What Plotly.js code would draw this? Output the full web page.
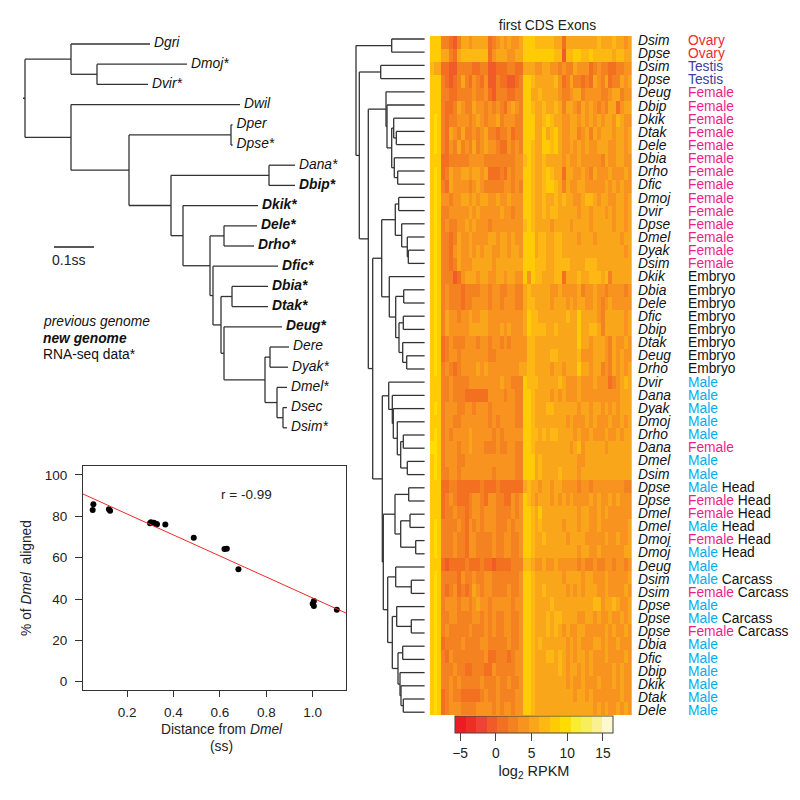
<!DOCTYPE html>
<html>
<head>
<meta charset="utf-8">
<script src="https://cdn.plot.ly/plotly-3.0.1.min.js"></script>
<style>html,body{margin:0;padding:0;background:#fff}</style>
</head>
<body>
<div id="chart" style="width:800px;height:800px"></div>
<script>
// ---------- species tree (branch lengths in ss)
const speciesTree = "((Dgri:0.1975,(Dmoj:0.225,Dvir:0.1275):0.065):0.115,(Dwil:0.4225,((Dper:0.004,Dpse:0.004):0.255,((Dana:0.065,Dbip:0.065):0.245,(Dkik:0.1875,((Dele:0.0825,Drho:0.075):0.035,(Dfic:0.1625,((Dbia:0.09,Dtak:0.09):0.0275,(Deug:0.145,((Dere:0.0475,Dyak:0.045):0.0125,(Dmel:0.025,(Dsec:0.01,Dsim:0.01):0.015):0.03):0.1025):0.0075):0.02):0.0075):0.0675):0.03):0.105):0.145):0.115):0.005";
const newGenomes = ["Dbip","Dkik","Dele","Drho","Dfic","Dbia","Dtak","Deug"];
const rnaSeqSpecies = ["Dmoj","Dvir","Dpse","Dana","Dbip","Dkik","Dele","Drho","Dfic","Dbia","Dtak","Deug","Dyak","Dmel","Dsim"];
const scaleBarLength = [0.1];

// ---------- scatter
const distance = [0.055,0.052,0.122,0.127,0.299,0.303,0.316,0.325,0.329,0.365,0.4875,0.62,0.63,0.68,1.005,1.0,1.005,1.104];
const aligned  = [85.8,83.1,83.4,82.7,76.6,77.1,76.9,76.3,76.2,76.1,69.7,64.2,64.3,54.4,39,37.7,36.6,34.8];
const fitX = [0.0103,1.1435];
const fitY = [90.8,33.2];

// ---------- row labels
const rowSpecies = ["Dsim","Dpse","Dsim","Dpse","Deug","Dbip","Dkik","Dtak","Dele","Dbia","Drho","Dfic","Dmoj","Dvir","Dpse","Dmel","Dyak","Dsim",
 "Dkik","Dbia","Dele","Dfic","Dbip","Dtak","Deug","Drho","Dvir","Dana","Dyak","Dmoj","Drho","Dana","Dmel","Dsim",
 "Dpse","Dpse","Dmel","Dmel","Dmoj","Dmoj","Deug","Dsim","Dsim","Dpse","Dpse","Dpse","Dbia","Dfic","Dbip","Dkik","Dtak","Dele"];
const rowSex = ["Ovary","Ovary","Testis","Testis","Female","Female","Female","Female","Female","Female","Female","Female","Female","Female","Female","Female","Female","Female",
 "Embryo","Embryo","Embryo","Embryo","Embryo","Embryo","Embryo","Embryo","Male","Male","Male","Male","Male","Female","Male","Male",
 "Male","Female","Female","Male","Female","Male","Male","Male","Female","Male","Male","Female","Male","Male","Male","Male","Male","Male"];
const rowTissue = ["","","","","","","","","","","","","","","","","","","","","","","","","","","","","","","","","","",
 "Head","Head","Head","Head","Head","Head","","Carcass","Carcass","","Carcass","Carcass","","","","","",""];
const sexColors = {Ovary:"#EE2A2F",Testis:"#3F40A0",Female:"#EC1E8E",Male:"#00AEEF",Embryo:"#111111"};

// ---------- heat map: one hex digit per exon = log2 RPKM
const heatRows = [
"889 3310355455 55134545445 8887777755 1555555557 55575545",
"898 5531577777 77145554455 9888888877 0778877877 77757755",
"755 1100333311 33001113311 5554455443 4335444134 33113344",
"889 3101353143 14003110013 9875555574 1353313154 35133545",
"889 3311333343 34103331133 8855755554 3345534444 33455344",
"899 3113543354 43434314543 9875575575 3554354543 43551455",
"9a9 3133444345 43445344433 9885578755 4455454545 45547544",
"9a9 3154353343 45331334133 9885585785 4455345354 55545545",
"9a9 3143534353 45443114343 8875588785 4454545445 55445545",
"899 1133333444 43333333344 7875575555 4544544444 35445544",
"9a8 1354455455 45111314344 8875578755 1554454354 44544454",
"9a9 3154444345 43333344343 8875578875 3544554444 45454544",
"9a9 4434455454 55445445444 8875575575 7554457754 55445545",
"9a9 3344444545 44444544344 8875575775 5555455455 54545545",
"8a8 3433445454 44344444444 7875555455 5545555455 55545545",
"8a9 3313544544 44554554544 9885775577 5555455545 55555455",
"9a9 3314544545 45544554554 9885775577 5555555555 55555545",
"9a9 3313544455 55545555555 9887775577 7755557775 55555555",
"9a9 3330145554 55445545544 8487755577 1555755777 57355555",
"8a8 3433313333 44344334433 5755555445 4444534454 43444434",
"9a9 3433313344 44344344433 5775555455 5454554454 34544444",
"9a9 3544344544 55444444444 5877555555 5755855554 35555545",
"9a9 3544444555 55444545444 5877775575 5555855775 35555545",
"9a9 1343334443 44344343444 4775555555 5555855455 54354454",
"9a9 1344344444 44334444444 4775555775 5555744455 54354544",
"9a9 3431344445 45444444445 5775555455 4555855455 34354545",
"889 3343333444 44444544333 8777555557 5444544454 44134575",
"899 3343331111 11444434433 9875555454 5444544444 44444555",
"9a9 3444334434 44344444433 8875557755 5555455455 45454555",
"899 3443344444 44343444433 9875555555 5454445454 44544545",
"9a9 3434444544 44434344444 8877575775 5554544544 45445455",
"aa9 3444344544 43334334433 9875555555 5545745555 54555555",
"9a9 3444334444 44444444433 9885755555 5555445555 55555555",
"9a9 3344344444 44434444433 9885755557 5555455555 55555555",
"889 1133111111 31113111111 5755455455 4444344344 44444433",
"899 1343111344 31443311434 8754555454 5454444545 44545444",
"899 1334331344 34443333434 8875855555 5555455445 45444444",
"8a9 3333431434 34443334344 8875755555 4555455445 44444445",
"8a9 3334331443 33343344334 8875575555 5455554444 45445445",
"8a9 3334331443 33343344334 8875555555 5555455445 44444455",
"899 1011113111 31101111333 7754454454 4444343343 34434434",
"8a9 3333143343 34433333334 8875555555 4555545544 45444445",
"8a9 3134131354 34433334334 8875575555 5454545554 45444454",
"8a8 3444344345 44344444344 8875555755 5555565577 45575445",
"8a9 3344333344 34343344334 8875557577 5555445545 44544545",
"8a9 3433333433 34343344334 9875557575 4544554444 45454454",
"9a9 1333343333 44333334334 9875755555 5454544455 45445444",
"9a9 3143333333 34113331344 9875557757 5454554544 45444454",
"9a9 3334331133 31143333344 9875555557 5455454544 44454544",
"9a9 3343433333 43334334334 8875555555 5454454445 44454544",
"9a9 1343311111 34334333344 8875555555 5554554544 44444544",
"9a9 1344433334 44434344344 8875555555 5555555545 45445454"
];
const heatColors = ["#ED1C24","#EE2E24","#EF4136","#F15A29","#F37021","#F58220","#F7931E","#FAA61A","#FDB813","#FFCB05","#FFDD00","#F9EC31","#F8EE5A","#FAF08F","#FEF8D0"];
const heatMin = -5.7, heatMax = 16.4;
const heatTicks = [-5,0,5,10,15];

// ---------- dendrogram: [height, upper child, lower child]; 0 is a leaf, leaves run in row order
const ovaryClade = [.329,0,0];
const testisClade = [.439,0,0];
const femaleA = [.386,0,[.376,0,[.329,[.309,0,[.283,0,0]],[.303,0,[.269,0,0]]]]];
const femaleB = [.293,[.259,0,0],[.229,0,[.173,0,[.163,0,0]]]];
const embryoClade = [.353,0,[.289,[.209,0,0],[.256,[.213,0,0],[.219,0,[.179,0,0]]]]];
const maleClade = [.359,0,[.323,0,[.313,0,[.273,0,[.239,[.213,0,0],[.173,0,0]]]]]];
const headClade = [.296,[.159,0,0],[.239,[.146,0,0],[.089,0,0]]];
const carcassClade = [.369,[.289,0,[.133,0,0]],[.323,[.279,0,[.133,0,0]],[.266,[.219,0,0],[.246,0,[.236,0,[.213,0,0]]]]]];
const dendrogram = [.686,ovaryClade,[.653,testisClade,[.563,femaleA,[.519,[.429,femaleB,embryoClade],[.423,maleClade,[.413,headClade,carcassClade]]]]]];

// ---------- helpers
const P = 800, FONT = '"Liberation Sans", Arial, sans-serif', INK = "#222";
const px = (a,b) => [a/P,b/P];
const pyr = (top,bottom) => [1-bottom/P,1-top/P];

function parseNewick(s){
  const toks = s.match(/[(),]|[^(),]+/g); let i = 0;
  function node(){
    const n = {children:[]};
    if(toks[i]==="("){ i++; n.children.push(node()); while(toks[i]===","){i++; n.children.push(node());} i++; }
    if(toks[i] && !"(),".includes(toks[i])){ const p = toks[i++].split(":"); n.name = p[0]; n.len = +p[1]; }
    return n;
  }
  return node();
}
function layoutSpecies(root){
  const xs=[],ys=[],tips=[]; let k=0;
  (function walk(n,x0){
    const x = x0+n.len;
    if(!n.children.length){ n.y=k++; tips.push({name:n.name,x:x,y:n.y}); }
    else { n.children.forEach(c=>walk(c,x));
      const a=n.children[0].y,b=n.children[n.children.length-1].y; n.y=(a+b)/2;
      xs.push(x,x,null); ys.push(a,b,null); }
    xs.push(x0,x,null); ys.push(n.y,n.y,null);
  })(root,-root.len);
  return {xs,ys,tips};
}
function layoutDendro(root){
  const xs=[],ys=[]; let k=0;
  function walk(n,parentH){
    let y,h;
    if(n===0){ y=k++; h=0; }
    else { h=n[0]; const a=walk(n[1],h),b=walk(n[2],h); y=(a+b)/2; xs.push(h,h,null); ys.push(a,b,null); }
    if(parentH!==null){ xs.push(parentH,h,null); ys.push(y,y,null); }
    return y;
  }
  walk(root,null);
  return {xs,ys};
}

const sp = layoutSpecies(parseNewick(speciesTree));
const den = layoutDendro(dendrogram);
const z = heatRows.map(r => r.replace(/ /g,"").split("").map(c => parseInt(c,16)));
const colorscale = [];
heatColors.forEach((c,i)=>{ colorscale.push([i/heatColors.length,c],[(i+1)/heatColors.length,c]); });

const tipText = sp.tips.map(t=>{
  const star = rnaSeqSpecies.includes(t.name) ? "*" : "";
  const s = "<i>"+t.name+star+"</i>";
  return newGenomes.includes(t.name) ? "<b>"+s+"</b>" : s;
});
const rowIdx = rowSpecies.map((_,i)=>i);

const traces = [
 {type:"scatter",mode:"lines",x:sp.xs,y:sp.ys,xaxis:"x",yaxis:"y",line:{color:"#333",width:1.3},hoverinfo:"skip",connectgaps:false},
 {type:"scatter",mode:"text",x:sp.tips.map(t=>t.x+0.01),y:sp.tips.map(t=>t.y),text:tipText,textposition:"middle right",xaxis:"x",yaxis:"y",cliponaxis:false,
  textfont:{family:FONT,size:13.8,color:"#111"},hoverinfo:"skip"},
 {type:"scatter",mode:"lines",x:[0.0725,0.0725+scaleBarLength[0]],y:[10.05,10.05],xaxis:"x",yaxis:"y",line:{color:"#222",width:1.3},hoverinfo:"skip"},
 {type:"scatter",mode:"lines",x:den.xs,y:den.ys,xaxis:"x2",yaxis:"y2",line:{color:"#333",width:1.3},hoverinfo:"skip"},
 {type:"scatter",mode:"markers",x:distance,y:aligned,xaxis:"x3",yaxis:"y3",marker:{color:"#000",size:6},cliponaxis:false,hoverinfo:"x+y"},
 {type:"scatter",mode:"lines",x:fitX,y:fitY,xaxis:"x3",yaxis:"y3",line:{color:"#EE2A2B",width:1},hoverinfo:"skip"},
 {type:"heatmap",z:z,xaxis:"x4",yaxis:"y4",colorscale:colorscale,zmin:heatMin,zmax:heatMax,xgap:0,ygap:0,
  colorbar:{orientation:"h",x:534/P,xanchor:"center",y:1-716/P,yanchor:"top",thickness:17,thicknessmode:"pixels",len:158,lenmode:"pixels",
   xpad:0,ypad:0,outlinecolor:"#444",outlinewidth:1,ticks:"outside",ticklen:8,tickcolor:"#444",tickwidth:1,tickvals:heatTicks,ticktext:["\u22125","0","5","10","15"],
   tickfont:{family:FONT,size:13.8,color:INK},title:{text:"log<sub>2</sub> RPKM",side:"bottom",font:{family:FONT,size:14.5,color:INK}}}},
 {type:"scatter",mode:"text",x:rowIdx.map(()=>2),y:rowIdx,text:rowSpecies.map(s=>"<i>"+s+"</i>"),textposition:"middle right",xaxis:"x5",yaxis:"y5",cliponaxis:false,
  textfont:{family:FONT,size:13.8,color:"#111"},hoverinfo:"skip"},
 {type:"scatter",mode:"text",x:rowIdx.map(()=>52),y:rowIdx,
  text:rowIdx.map(i=>'<span style="color:'+sexColors[rowSex[i]]+'">'+rowSex[i]+'</span>'+(rowTissue[i]?" "+rowTissue[i]:"")),
  textposition:"middle right",xaxis:"x5",yaxis:"y5",cliponaxis:false,textfont:{family:FONT,size:13.8,color:"#111"},hoverinfo:"skip"}
];

const hidden = {visible:false,fixedrange:true,showgrid:false,zeroline:false};
const note = (text,x,y,extra)=>Object.assign({text,xref:"paper",yref:"paper",x:x/P,y:1-y/P,showarrow:false,xanchor:"left",yanchor:"middle",font:{family:FONT,size:13.8,color:"#111"}},extra||{});

const layout = {
 width:P,height:P,margin:{l:0,r:0,t:0,b:0},paper_bgcolor:"#fff",plot_bgcolor:"rgba(0,0,0,0)",showlegend:false,
 font:{family:FONT,size:13.5,color:INK},
 title:{text:"first CDS Exons",x:547.5/P,y:1-25/P,xanchor:"center",yanchor:"middle",font:{family:FONT,size:13.8,color:INK}},
 xaxis:Object.assign({},hidden,{domain:px(0,350),range:[-25/400,325/400],anchor:"y"}),
 yaxis:Object.assign({},hidden,{domain:pyr(0,450),range:[(450-44)/20.2,-44/20.2],anchor:"x"}),
 xaxis2:Object.assign({},hidden,{domain:px(350,430),range:[.746,-.054],anchor:"y2"}),
 yaxis2:Object.assign({},hidden,{domain:[0,1],range:[(800-39)/13.2,-39/13.2],anchor:"x2"}),
 xaxis3:{domain:px(83,346),range:[0.0103,1.1435],anchor:"y3",showgrid:false,zeroline:false,showline:true,mirror:true,linecolor:"#333",linewidth:1,
  ticks:"outside",ticklen:6,tickcolor:"#333",tickvals:[0.2,0.4,0.6,0.8,1.0],ticktext:["0.2","0.4","0.6","0.8","1.0"],ticklabelstandoff:4,tickfont:{family:FONT,size:13.5,color:INK},fixedrange:true},
 yaxis3:{domain:pyr(466,690),range:[-4,104.35],anchor:"x3",showgrid:false,zeroline:false,showline:true,mirror:true,linecolor:"#333",linewidth:1,
  ticks:"outside",ticklen:7,tickcolor:"#333",tickvals:[0,20,40,60,80,100],ticklabelstandoff:5,tickfont:{family:FONT,size:13.5,color:INK},fixedrange:true,
  title:{text:"% of <i>Dmel</i>  aligned",standoff:9,font:{family:FONT,size:13.8,color:INK}}},
 xaxis4:Object.assign({},hidden,{domain:px(429.7,632),range:[-0.5,51.5],anchor:"y4"}),
 yaxis4:Object.assign({},hidden,{domain:pyr(36,715),range:[51.5,-0.5],anchor:"x4"}),
 xaxis5:Object.assign({},hidden,{domain:px(636,800),range:[0,164],anchor:"y5"}),
 yaxis5:Object.assign({},hidden,{domain:[0,1],range:[(800-41.5)/13.14,-41.5/13.14],anchor:"x5"}),
 annotations:[
  note("0.1ss",50,260,{font:{family:FONT,size:14,color:"#222"}}),
  note("<i>previous genome</i>",41,321),
  note("<b><i>new genome</i></b>",41,338),
  note("RNA-seq data*",41,354),
  note("Distance from <i>Dmel</i>",222,729,{xanchor:"center",font:{family:FONT,size:13.8,color:INK}}),
  note("(ss)",221,746,{xanchor:"center",font:{family:FONT,size:13.8,color:INK}}),
  {text:"r = -0.99",xref:"x3",yref:"y3",x:0.713,y:90.8,showarrow:false,font:{family:FONT,size:13.5,color:INK}}
 ]
};
Plotly.newPlot("chart",traces,layout,{displayModeBar:false,staticPlot:false,responsive:false});
</script>
</body>
</html>
